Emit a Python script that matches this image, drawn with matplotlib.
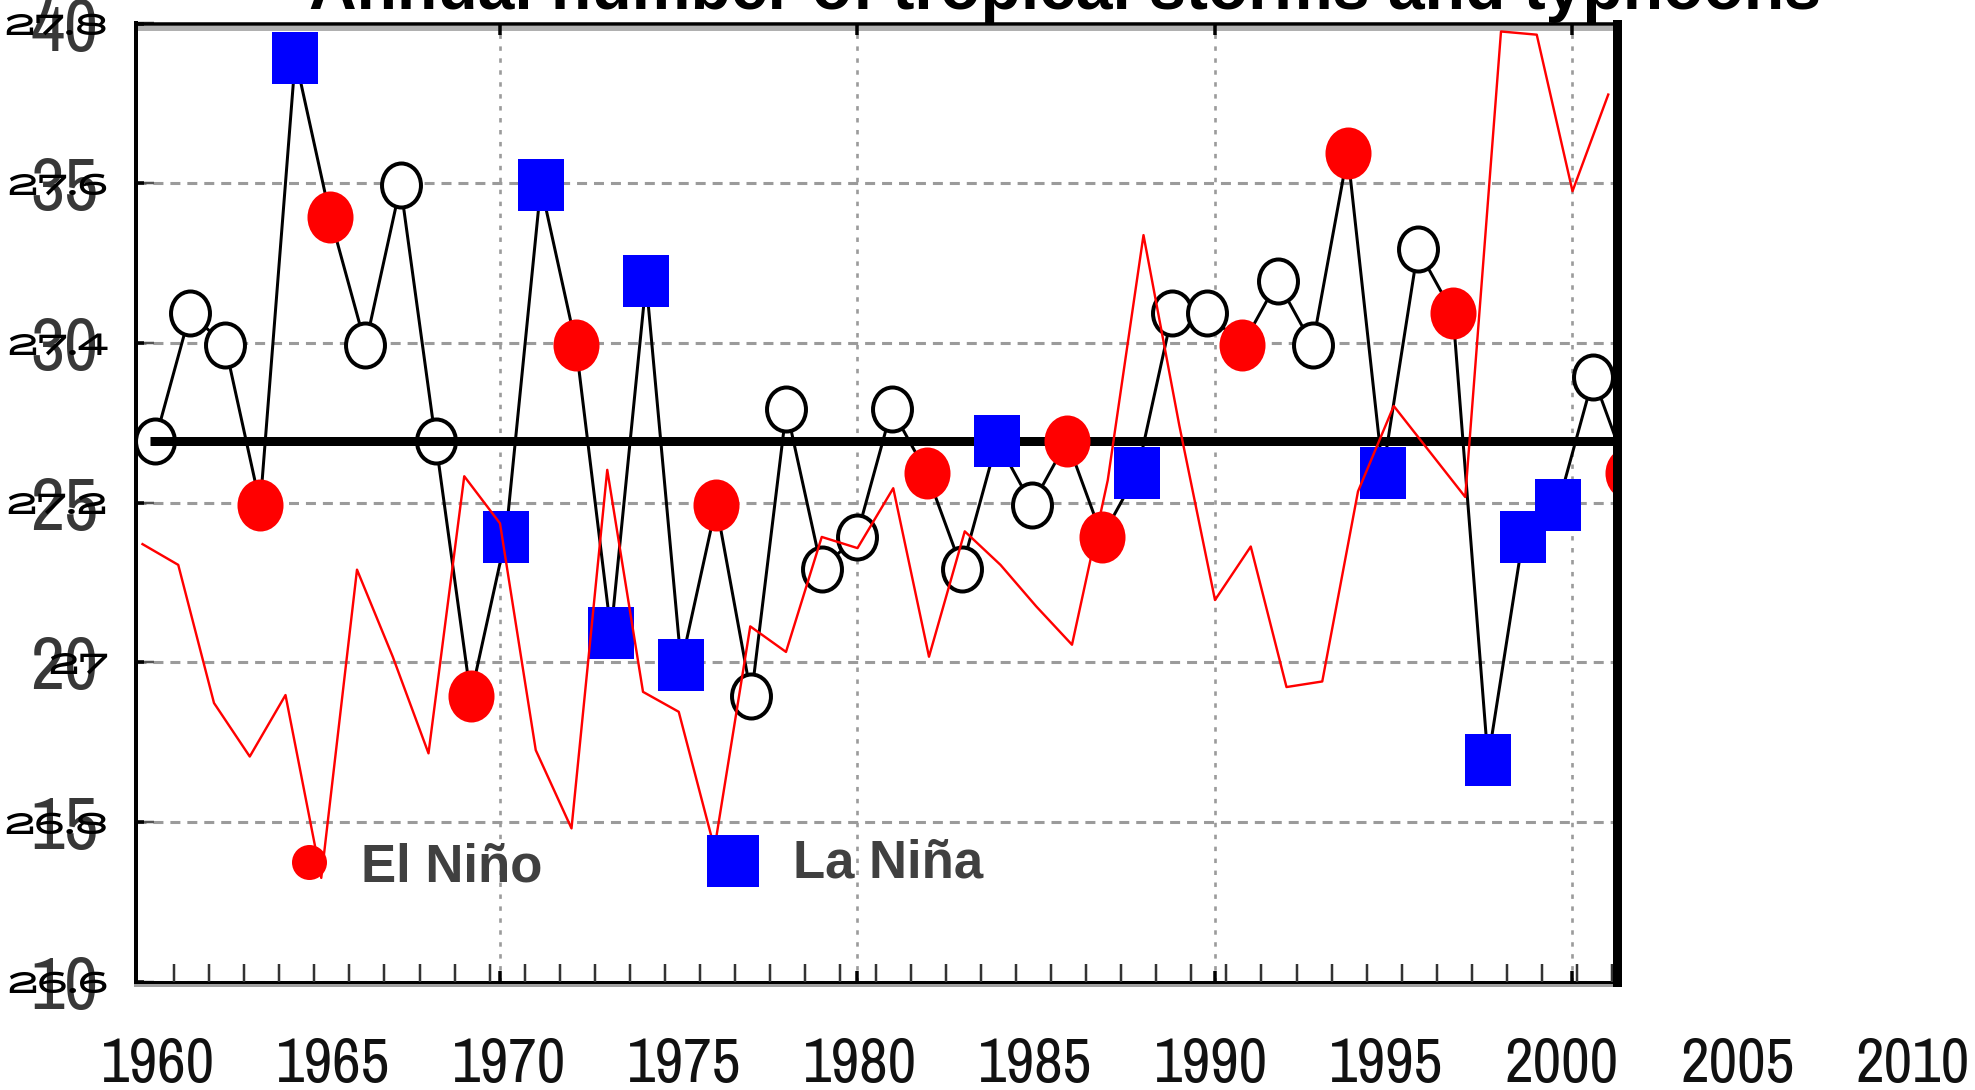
import matplotlib
matplotlib.use("Agg")
from matplotlib import pyplot as plt
from matplotlib import font_manager
from matplotlib.lines import Line2D
from matplotlib.path import Path
import numpy as np

# Annual number of tropical storms and typhoons
years = np.arange(1960, 2003)
storms = [27, 31, 30, 25, 39, 34, 30, 35, 27, 19,
          24, 35, 30, 21, 32, 20, 25, 19, 28, 23,
          24, 28, 26, 23, 27, 25, 27, 24, 26, 31,
          31, 30, 32, 30, 36, 26, 33, 31, 17, 24,
          25, 29, 26]
# o = neutral year, e = El Nino year, l = La Nina year
phase = ("oooeleoooe" "llellleooo" "ooeoloeelo" "oeooeloell" "loe")
mean_count = 27

# red curve (right hand scale, drawn against the left)
sst_years = np.arange(1960, 2002)
sst = [27.148, 27.122, 26.949, 26.882, 26.959, 26.730, 27.116, 27.007, 26.886, 27.233,
       27.174, 26.890, 26.792, 27.241, 26.963, 26.938, 26.767, 27.045, 27.013, 27.157,
       27.143, 27.218, 27.007, 27.164, 27.122, 27.070, 27.022, 27.228, 27.535, 27.297,
       27.078, 27.145, 26.969, 26.976, 27.214, 27.321, 27.264, 27.207, 27.790, 27.786,
       27.590, 27.711]

count_ticks = [10, 15, 20, 25, 30, 35, 40]
count_labels = ["10", "15", "20", "25", "30", "35", "40"]
sst_ticks = [26.6, 26.8, 27.0, 27.2, 27.4, 27.6, 27.8]
sst_labels = ["26.6", "26.8", "27", "27.2", "27.4", "27.6", "27.8"]
grid_years = [1970, 1980, 1990, 2000]
bottom_labels = ["1960", "1965", "1970", "1975", "1980", "1985",
                 "1990", "1995", "2000", "2005", "2010"]

W, H = 1975, 1090
PX = 0.72  # points per pixel at dpi 100


def fx(x):
    return x / W


def fy(y):
    return 1 - y / H


def regular(f):
    return f.weight in (400, "normal", "regular") and f.style == "normal"


# a narrow face for the squeezed digits
fonts = font_manager.fontManager.ttflist
reg = [f for f in fonts if f.name == "Archivo Narrow" and regular(f)]
if not reg:
    reg = [f for f in fonts if ("Narrow" in f.name or "Condensed" in f.name) and regular(f)]
if reg:
    narrow = font_manager.FontProperties(fname=reg[0].fname)
else:
    narrow = font_manager.FontProperties(family="Liberation Sans")

# a wide bold face for the small second scale, if there is one
wide = [f for f in fonts if ("Expanded" in f.name or f.stretch in
        ("expanded", "semi-expanded", "extra-expanded", "ultra-expanded"))
        and f.weight in (700, "bold") and f.style == "normal"]
if wide:
    small_fp = font_manager.FontProperties(fname=wide[0].fname)
    small_size = 23
else:
    small_fp = font_manager.FontProperties(family="DejaVu Sans", weight="bold")
    small_size = 25

plt.rcParams["lines.scale_dashes"] = False

# slightly tall markers, as in the picture
circ = Path.unit_circle()
ellipse = Path(circ.vertices * np.array([0.885, 1.0]), circ.codes)
box = Path([(-0.885, -1), (0.885, -1), (0.885, 1), (-0.885, 1), (-0.885, -1)],
           [Path.MOVETO, Path.LINETO, Path.LINETO, Path.LINETO, Path.CLOSEPOLY])

fig = plt.figure(figsize=(W / 100, H / 100), dpi=100)
renderer = fig.canvas.get_renderer()


def size_for_width(s, target_px, fp):
    t = fig.text(0, 0, s, fontproperties=fp, fontsize=100)
    w = t.get_window_extent(renderer).width
    t.remove()
    return 100 * target_px / w


big_size = size_for_width("40", 68, narrow)
year_size = size_for_width("1960", 114, narrow)

L, R, T, B = 136, 1616.5, 23.5, 981.7
rect = [fx(L), fy(B), (R - L) / W, (B - T) / H]

# Base axes: grid, left scale, frame
ax = fig.add_axes(rect)
ax.patch.set_visible(False)
ax.set_xlim(1960 - (142.5 - L) / 35.75, 1960 + (R - 142.5) / 35.75)
ax.set_ylim(10, 40)
ax.set_xticks(grid_years)
ax.tick_params(axis="x", direction="in", length=11 * PX, width=3.5 * PX, color="black",
               top=True, labelbottom=False)
ax.set_yticks(count_ticks, count_labels)
ax.tick_params(axis="y", direction="in", length=18 * PX, width=2.5 * PX, color="#555555",
               labelcolor="#383838", pad=27)
for t in ax.get_yticklabels():
    t.set_fontproperties(narrow)
    t.set_fontsize(big_size)
ax.grid(axis="y", linestyle=(0, (7.2, 5.0)), color="#9b9b9b", linewidth=2.2)
ax.grid(axis="x", linestyle=(0, (3.2, 5.4)), color="#9b9b9b", linewidth=1.9)
ax.spines["right"].set_visible(False)
ax.spines["left"].set_linewidth(4 * PX)
ax.spines["top"].set_linewidth(3.5 * PX)
ax.spines["bottom"].set_linewidth(3 * PX)

# Storm counts, on their own slightly shifted scale
ax_m = fig.add_axes(rect)
ax_m.set_facecolor("none")
for s in ax_m.spines.values():
    s.set_visible(False)
ax_m.set_xlim(1960 - (155 - L) / 35.08, 1960 + (R - 155) / 35.08)
ax_m.set_ylim(10.07, 40.07)
ax_m.set_yticks([])
ax_m.set_xticks(1960.54 + np.arange(42))
ax_m.tick_params(axis="x", direction="in", length=18 * PX, width=2.5 * PX, color="#333333",
                 labelbottom=False)

storms_arr = np.array(storms)
ph = np.array(list(phase))
ax_m.plot(years, storms_arr, color="black", lw=3 * PX, zorder=1)
m = ph == "o"
ax_m.plot(years[m], storms_arr[m], ls="none", marker=ellipse, ms=44 * PX,
          mfc="white", mec="black", mew=4 * PX, zorder=2)
ax_m.plot([1959.85, 2003], [mean_count, mean_count], color="black", lw=9 * PX,
          solid_capstyle="butt", zorder=3)
m = ph == "e"
ax_m.plot(years[m], storms_arr[m], ls="none", marker=ellipse, ms=52 * PX,
          color="#ff0000", mew=0, zorder=4)
m = ph == "l"
ax_m.plot(years[m], storms_arr[m], ls="none", marker=box, ms=52 * PX,
          color="#0000ff", mew=0, zorder=4)

# Red curve on the second scale
ax_r = ax.twinx()
ax_r.set_ylim(26.6, 27.8)
ax_r.plot(sst_years, sst, color="#ff0000", lw=2.4 * PX, zorder=2)
ax_r.yaxis.tick_left()
ax_r.set_yticks(sst_ticks, sst_labels)
ax_r.tick_params(axis="y", direction="in", length=8 * PX, width=3.5 * PX, color="black",
                 labelcolor="black", pad=20)
for t in ax_r.get_yticklabels():
    t.set_fontproperties(small_fp)
    t.set_fontsize(small_size)
for name, s in ax_r.spines.items():
    s.set_visible(name == "right")
ax_r.spines["right"].set_linewidth(9 * PX)
ax_r.spines["right"].set_color("black")

# soft shadows under the top and bottom frame lines
fig.add_artist(Line2D([fx(138), fx(1612)], [fy(27.5), fy(27.5)], color="#b0b0b0",
                      lw=5 * PX, transform=fig.transFigure, zorder=-1))
fig.add_artist(Line2D([fx(136), fx(1612)], [fy(985), fy(985)], color="#a0a0a0",
                      lw=4 * PX, transform=fig.transFigure, zorder=-1))

# Legend
fig.add_artist(Line2D([fx(309)], [fy(862)], ls="none", marker="o", ms=35 * PX,
                      color="#ff0000", mew=0, transform=fig.transFigure))
fig.text(fx(361), fy(882), "El Niño", fontsize=38, fontweight="bold",
         color="#404040", family="Liberation Sans", ha="left", va="baseline")
fig.add_artist(Line2D([fx(732.5)], [fy(861)], ls="none", marker="s", ms=52 * PX,
                      color="#0000ff", mew=0, transform=fig.transFigure))
fig.text(fx(793), fy(877), "La Niña", fontsize=38, fontweight="bold",
         color="#404040", family="Liberation Sans", ha="left", va="baseline")

# Title, partly cut off by the top edge
fig.text(fx(1065), fy(9), "Annual number of tropical storms and typhoons",
         fontsize=47.5, fontweight="bold", color="black", family="Liberation Sans",
         ha="center", va="baseline")

# Year labels along the bottom
for k, lab in enumerate(bottom_labels):
    fig.text(fx(158 + 175.5 * k), fy(1082), lab, fontsize=year_size, color="#111111",
             fontproperties=narrow, ha="center", va="baseline")

fig.savefig("out.png", dpi=100)
